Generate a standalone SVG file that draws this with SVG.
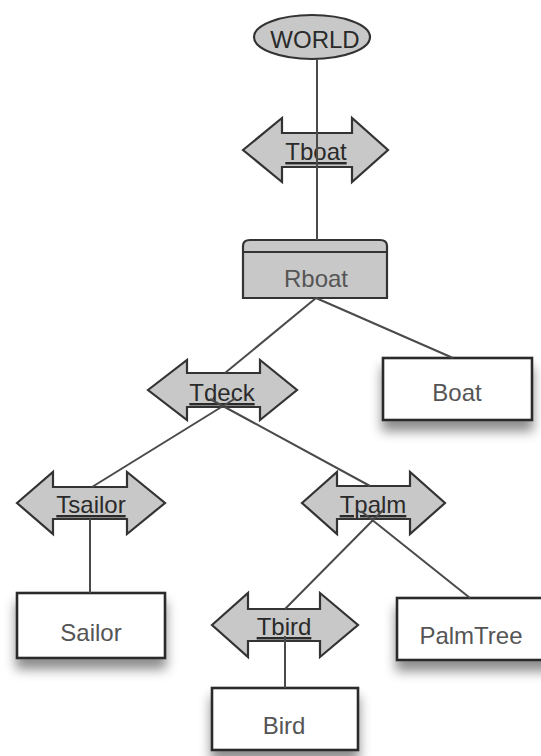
<svg xmlns="http://www.w3.org/2000/svg" width="541" height="756" viewBox="0 0 541 756">
<defs>
<style>
.shape{fill:#c8c8c8;stroke:#333;stroke-width:2.2;stroke-linejoin:miter}
.box{fill:#fff;stroke:#2a2a2a;stroke-width:2.6}
.lbl{font-family:"Liberation Sans",Arial,sans-serif;font-size:24px;fill:#2a2a2a;text-anchor:middle;text-decoration:underline}
.txt{font-family:"Liberation Sans",Arial,sans-serif;font-size:24px;fill:#555;text-anchor:middle}
.conn{stroke:#4a4a4a;stroke-width:2;fill:none}
</style>
<filter id="sh" x="-20%" y="-20%" width="140%" height="160%">
<feDropShadow dx="0" dy="10" stdDeviation="6" flood-color="#000" flood-opacity="0.45"/>
</filter>
</defs>
<rect width="541" height="756" fill="#fff"/>
<g id="WORLD">
<ellipse class="shape" cx="312" cy="37" rx="58" ry="22"/>
<text class="txt" x="315" y="48" fill="#2a2a2a" style="fill:#2a2a2a">WORLD</text>
</g>
<g id="Tboat">
<path class="shape" d="M243,150 L282,118 L282,133 L352,133 L352,118 L388,150 L352,182 L352,167 L282,167 L282,182 Z"/>
<text class="lbl" x="316" y="160">Tboat</text>
</g>
<g id="Rboat">
<path class="shape" d="M243,298 L243,246 Q243,240 250,240 L380,240 Q387,240 387,246 L387,298 Z"/>
<line x1="243" y1="252" x2="387" y2="252" stroke="#333" stroke-width="2"/>
<text class="txt" x="316" y="287">Rboat</text>
</g>
<g id="Tdeck">
<path class="shape" d="M148,390 L187,360 L187,373 L260,373 L260,360 L297,390 L260,420 L260,407 L187,407 L187,420 Z"/>
<text class="lbl" x="222" y="401">Tdeck</text>
</g>
<g id="Boat">
<rect class="box" x="383" y="358" width="149" height="62" filter="url(#sh)"/>
<text class="txt" x="457" y="401">Boat</text>
</g>
<g id="Tsailor">
<path class="shape" d="M17,503 L53,472 L53,487 L127,487 L127,472 L165,503 L127,534 L127,519 L53,519 L53,534 Z"/>
<text class="lbl" x="91" y="513">Tsailor</text>
</g>
<g id="Tpalm">
<path class="shape" d="M302,503 L337,472 L337,486 L410,486 L410,472 L445,503 L410,534 L410,519 L337,519 L337,534 Z"/>
<text class="lbl" x="373" y="513">Tpalm</text>
</g>
<g id="Sailor">
<rect class="box" x="17" y="593" width="148" height="65" filter="url(#sh)"/>
<text class="txt" x="91" y="641">Sailor</text>
</g>
<g id="Tbird">
<path class="shape" d="M212,625 L248,593 L248,609 L320,609 L320,593 L358,625 L320,657 L320,641 L248,641 L248,657 Z"/>
<text class="lbl" x="284" y="635">Tbird</text>
</g>
<g id="PalmTree">
<rect class="box" x="397" y="598" width="160" height="62" filter="url(#sh)"/>
<text class="txt" x="471" y="644">PalmTree</text>
</g>
<g id="Bird">
<rect class="box" x="212" y="688" width="146" height="62" filter="url(#sh)"/>
<text class="txt" x="284" y="734">Bird</text>
</g>
<g id="connectors">
<line class="conn" x1="317" y1="59" x2="317" y2="240"/>
<line class="conn" x1="316" y1="298" x2="225" y2="373"/>
<line class="conn" x1="316" y1="298" x2="453" y2="358"/>
<line class="conn" x1="236" y1="398" x2="92" y2="487"/>
<line class="conn" x1="210" y1="399" x2="370" y2="486"/>
<line class="conn" x1="90" y1="519" x2="90" y2="593"/>
<line class="conn" x1="383" y1="510" x2="285" y2="609"/>
<line class="conn" x1="361" y1="511" x2="470" y2="598"/>
<line class="conn" x1="285" y1="636" x2="285" y2="688"/>
</g>
</svg>
